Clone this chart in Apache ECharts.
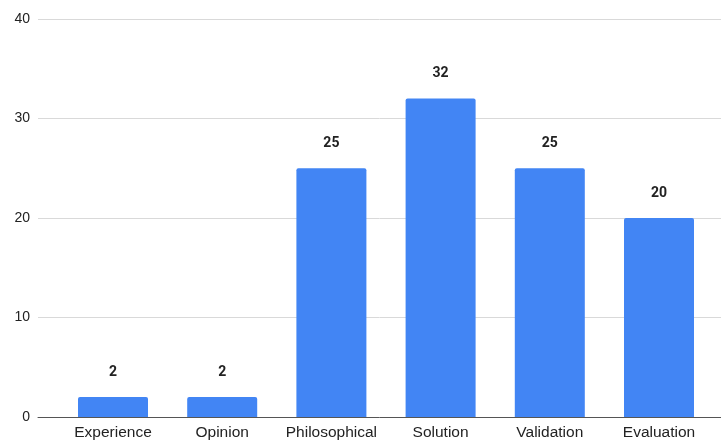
<!DOCTYPE html>
<html>
<head>
<meta charset="utf-8">
<style>
  html, body { margin: 0; padding: 0; background: #fff; }
  #chart { width: 721px; height: 442px; }
</style>
<script src="https://cdn.jsdelivr.net/npm/echarts@6/dist/echarts.min.js"></script>
</head>
<body>
<div id="chart"></div>
<script>
// Post counts per category
const categories = ['Experience', 'Opinion', 'Philosophical', 'Solution', 'Validation', 'Evaluation'];
const counts = [2, 2, 25, 32, 25, 20];
const yTicks = [0, 10, 20, 30, 40];

const chart = echarts.init(document.getElementById('chart'));

const axisFont = '"Liberation Sans", Arial, sans-serif';
const valueFont = 'Roboto, "Liberation Sans", Arial, sans-serif';

chart.setOption({
  animation: false,
  grid: [
    // frame grid: gridlines and value labels span the full width
    { left: 38, right: 0, top: 19, bottom: 25 },
    // plotting grid: categories sit inside a narrower band
    { left: 58.4, right: 7.4, top: 19, bottom: 25 }
  ],
  xAxis: [
    {
      gridIndex: 0, type: 'value', min: 0, max: 1,
      axisLine: { show: true, onZero: false, lineStyle: { color: '#555', width: 1 } },
      axisTick: { show: false }, axisLabel: { show: false }, splitLine: { show: false }
    },
    {
      gridIndex: 1, type: 'category', data: categories,
      axisLine: { show: false }, axisTick: { show: false },
      axisLabel: {
        interval: 0, hideOverlap: false,
        color: '#222', fontSize: 15.5, fontFamily: axisFont, margin: 8
      }
    }
  ],
  yAxis: [
    {
      gridIndex: 0, type: 'value', min: yTicks[0], max: yTicks[yTicks.length - 1], interval: 10,
      axisLine: { show: false }, axisTick: { show: false },
      axisLabel: { color: '#222', fontSize: 14, fontFamily: axisFont, margin: 8 },
      splitLine: { lineStyle: { color: '#d9d9d9', width: 1 } }
    },
    {
      gridIndex: 1, type: 'value', min: yTicks[0], max: yTicks[yTicks.length - 1], interval: 10,
      show: false
    }
  ],
  series: [
    {
      type: 'bar',
      xAxisIndex: 1, yAxisIndex: 1,
      data: counts,
      barWidth: 70,
      itemStyle: { color: '#4285F4', borderRadius: [2, 2, 0, 0] },
      label: {
        show: true, position: 'top', distance: 18,
        color: '#222', fontSize: 14, fontWeight: 'bold', fontFamily: valueFont
      }
    }
  ]
});
</script>
</body>
</html>
